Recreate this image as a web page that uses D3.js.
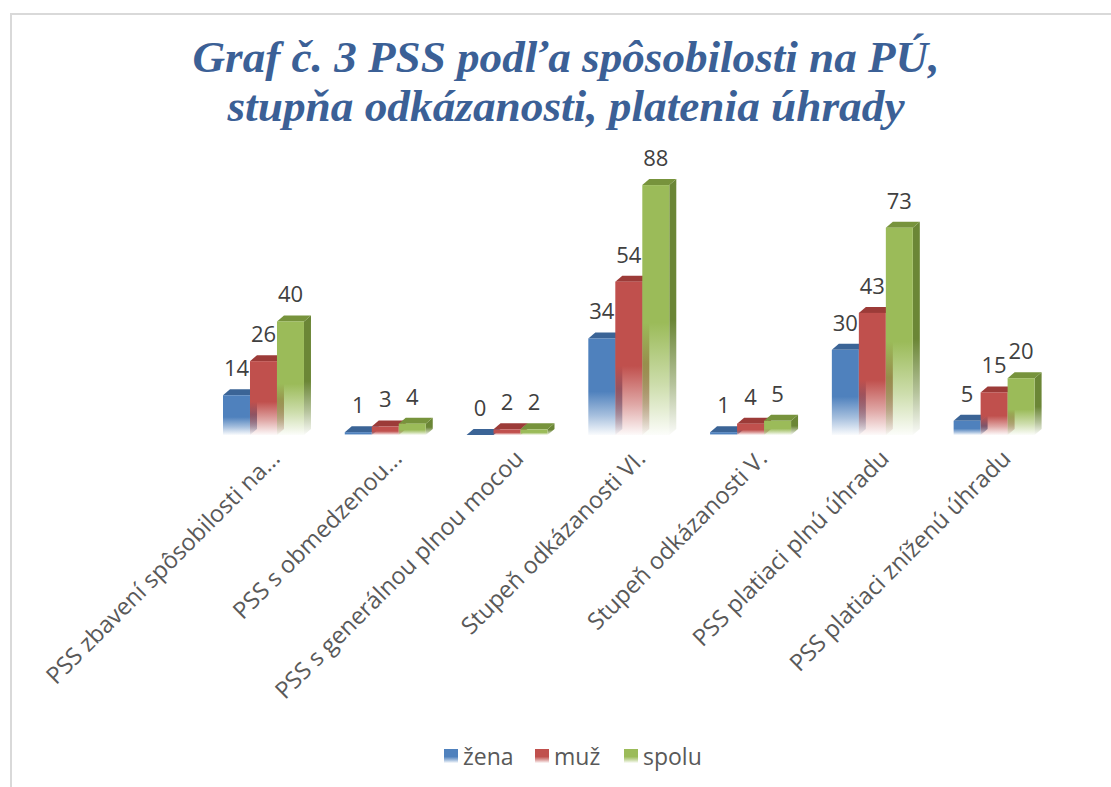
<!DOCTYPE html>
<html>
<head>
<meta charset="utf-8">
<script src="https://cdn.jsdelivr.net/npm/d3@7"></script>
<style>
  html, body { margin: 0; padding: 0; background: #fff; }
  svg { display: block; }
</style>
</head>
<body>
<svg id="chart"></svg>
<script>
// data
const categories = [
  "PSS zbavení spôsobilosti na...",
  "PSS s obmedzenou...",
  "PSS s generálnou plnou mocou",
  "Stupeň odkázanosti VI.",
  "Stupeň odkázanosti V.",
  "PSS platiaci plnú úhradu",
  "PSS platiaci zníženú úhradu"
];
const seriesNames = ["žena", "muž", "spolu"];
const zena  = [14, 1, 0, 34, 1, 30, 5];
const muz   = [26, 3, 2, 54, 4, 43, 15];
const spolu = [40, 4, 2, 88, 5, 73, 20];
const titleLines = ["Graf č. 3 PSS podľa spôsobilosti na PÚ,", "stupňa odkázanosti, platenia úhrady"];

const width = 1111, height = 787;
const svg = d3.select('#chart').attr('width', width).attr('height', height);

// colours: front, top face, side face
const colors = {
  "žena":  { front: "#4f81bd", top: "#3b6496", side: "#34598a" },
  "muž":   { front: "#c0504d", top: "#9c3b38", side: "#8f3532" },
  "spolu": { front: "#9bbb59", top: "#77933c", side: "#6b8636" }
};

const values = categories.map((c, i) => ({ cat: c, vals: [zena[i], muz[i], spolu[i]] }));

// frame
svg.append('path')
  .attr('d', `M11,${height} L11,14 L${width},14`)
  .attr('fill', 'none').attr('stroke', '#d9d9d9').attr('stroke-width', 2);

// gradients (bottom of each bar fades out)
const defs = svg.append('defs');
seriesNames.forEach((s, i) => {
  ['front', 'side'].forEach(face => {
    const g = defs.append('linearGradient')
      .attr('id', `g${i}${face}`)
      .attr('x1', 0).attr('y1', 0).attr('x2', 0).attr('y2', 1);
    g.append('stop').attr('offset', '0%').attr('stop-color', colors[s][face]).attr('stop-opacity', 1);
    g.append('stop').attr('offset', '55%').attr('stop-color', colors[s][face]).attr('stop-opacity', 1);
    g.append('stop').attr('offset', '80%').attr('stop-color', colors[s][face]).attr('stop-opacity', 0.5);
    g.append('stop').attr('offset', '100%').attr('stop-color', colors[s][face]).attr('stop-opacity', 0.03);
  });
});

// scales
const x0 = d3.scaleBand().domain(categories).range([202.6, 1055]).paddingInner(0.335).paddingOuter(0.1675);
const x1 = d3.scaleBand().domain(seriesNames).range([0, x0.bandwidth()]);
const y = d3.scaleLinear().domain([0, 100]).range([435, 151]);

const dx = 7, dy = -6;

// title
svg.append('g').selectAll('text')
  .data(titleLines)
  .join('text')
    .attr('x', 566)
    .attr('y', (d, i) => 72 + i * 49)
    .attr('text-anchor', 'middle')
    .attr('font-family', '"Liberation Serif", "Times New Roman", serif')
    .attr('font-weight', 'bold')
    .attr('font-style', 'italic')
    .attr('font-size', 45)
    .attr('fill', '#3b6096')
    .attr('textLength', (d, i) => i === 0 ? 747 : 677)
    .attr('lengthAdjust', 'spacingAndGlyphs')
    .text(d => d);

// bars
const groups = svg.append('g').selectAll('g')
  .data(values)
  .join('g')
    .attr('transform', d => `translate(${x0(d.cat)},0)`);

groups.each(function(d) {
  const g = d3.select(this);
  d.vals.forEach((v, i) => {
    const s = seriesNames[i];
    const bx = x1(s), bw = x1.bandwidth();
    const top = y(v), base = y(0);
    // side face
    g.append('path')
      .attr('d', `M${bx + bw},${top} L${bx + bw + dx},${top + dy} L${bx + bw + dx},${base + dy} L${bx + bw},${base} Z`)
      .attr('fill', `url(#g${i}side)`);
    // top face
    g.append('path')
      .attr('d', `M${bx},${top} L${bx + dx},${top + dy} L${bx + bw + dx},${top + dy} L${bx + bw},${top} Z`)
      .attr('fill', colors[s].top);
    // front face
    g.append('rect')
      .attr('x', bx).attr('y', top)
      .attr('width', bw).attr('height', Math.max(0, base - top))
      .attr('fill', `url(#g${i}front)`);
  });
});

// data labels
groups.each(function(d) {
  const g = d3.select(this);
  d.vals.forEach((v, i) => {
    const s = seriesNames[i];
    g.append('text')
      .attr('x', x1(s) + x1.bandwidth() / 2)
      .attr('y', y(v) - 19)
      .attr('text-anchor', 'middle')
      .attr('font-family', '"Open Sans", sans-serif')
      .attr('font-size', 22)
      .attr('fill', '#404040')
      .text(v);
  });
});

// category labels
svg.append('g').selectAll('text')
  .data(categories)
  .join('text')
    .attr('transform', d => `translate(${x0(d) + x0.bandwidth() / 2 + 18},${460}) rotate(-45)`)
    .attr('text-anchor', 'end')
    .attr('font-family', '"Open Sans", sans-serif')
    .attr('font-size', 23.5)
    .attr('fill', '#595959')
    .text(d => d);

// legend
const legendX = [444, 535, 624];
const legend = svg.append('g').selectAll('g')
  .data(seriesNames)
  .join('g')
    .attr('transform', (d, i) => `translate(${legendX[i]},749)`);
legend.append('rect')
  .attr('width', 14).attr('height', 14)
  .attr('fill', (d, i) => `url(#g${i}front)`);
legend.append('text')
  .attr('x', 19).attr('y', 16)
  .attr('font-family', '"Open Sans", sans-serif')
  .attr('font-size', 23)
  .attr('fill', '#595959')
  .text(d => d);
</script>
</body>
</html>
